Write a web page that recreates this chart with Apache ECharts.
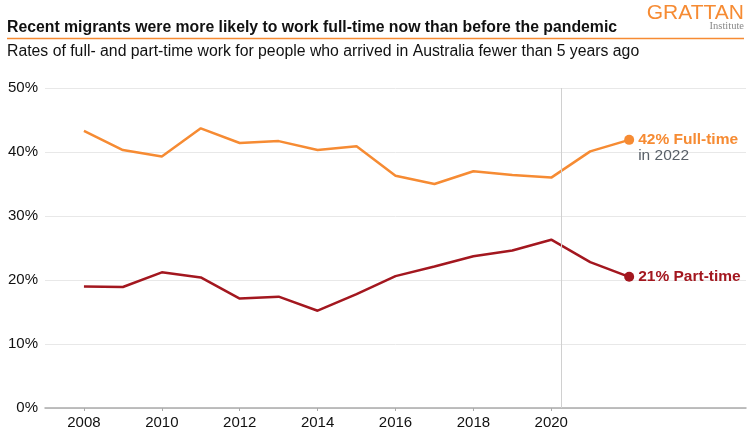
<!DOCTYPE html>
<html><head><meta charset="utf-8">
<script src="https://cdn.jsdelivr.net/npm/echarts@6/dist/echarts.min.js"></script>
<style>html,body{margin:0;padding:0;background:#fff}#c{width:754px;height:430px}</style>
</head><body><div id="c"></div>
<script>
const years = [2008,2009,2010,2011,2012,2013,2014,2015,2016,2017,2018,2019,2020,2021,2022];
const fullTime = [43.3,40.3,39.3,43.7,41.4,41.7,40.3,40.9,36.3,35.0,37.0,36.4,36.0,40.1,41.9];
const partTime = [19.0,18.9,21.2,20.4,17.1,17.4,15.2,17.8,20.6,22.1,23.7,24.6,26.3,22.8,20.5];
const xTickLabels = [2008,2010,2012,2014,2016,2018,2020];
const pandemicStart = 2020.25;

const ORANGE = '#F68B33', RED = '#A3171F', FONT = 'Liberation Sans, Arial, Helvetica, sans-serif';
const pairs = arr => years.map((y,i)=>[y,arr[i]]);
const last = years.length-1;

const chart = echarts.init(document.getElementById('c'), null, {renderer:'canvas'});
chart.setOption({
  animation:false,
  textStyle:{fontFamily:FONT},
  title:[
    {text:'Recent migrants were more likely to work full-time now than before the pandemic', left:2, top:15, padding:5,
     textStyle:{fontSize:15.8, fontWeight:'bold', color:'#111', fontFamily:FONT}},
    {text:'Rates of full- and part-time work for people who arrived in Australia fewer than 5 years ago', left:2, top:39, padding:5,
     textStyle:{fontSize:15.8, fontWeight:'normal', color:'#111', fontFamily:FONT}}
  ],
  graphic:[
    {type:'line', shape:{x1:7,y1:38.5,x2:744,y2:38.5}, style:{stroke:ORANGE, lineWidth:1.5}},
    {type:'text', right:10, top:3, style:{text:'GRATTAN', fill:ORANGE, font:'300 21px "Liberation Sans Narrow", "Liberation Sans", Arial, sans-serif'}},
    {type:'text', right:10, top:21, style:{text:'Institute', fill:'#888', font:'10.5px "Liberation Serif", "DejaVu Serif", serif'}}
  ],
  grid:{left:45, right:8, top:88, bottom:21, containLabel:false},
  xAxis:{type:'value', min:2007, max:2025,
    axisLine:{show:true, lineStyle:{color:'#aaa', width:1.5}},
    axisTick:{show:true, customValues:xTickLabels, length:3, lineStyle:{color:'#aaa'}},
    axisLabel:{customValues:xTickLabels, fontSize:15, color:'#111', margin:7, formatter:v=>String(v)},
    splitLine:{show:false}},
  yAxis:{type:'value', min:0, max:50, interval:10,
    axisLine:{show:false}, axisTick:{show:false},
    axisLabel:{fontSize:15, color:'#111', margin:7, formatter:v=>v+'%'},
    splitLine:{lineStyle:{color:'#e8e8e8', width:1}}},
  series:[
    {type:'line', data:[], z:1,
     markLine:{silent:true, symbol:'none', label:{show:false}, lineStyle:{color:'#d0d0d0', width:1, type:'solid'},
       data:[{xAxis:pandemicStart}]}},
    {type:'line', data:pairs(fullTime), symbol:'none', lineStyle:{color:ORANGE, width:2.5}, z:3},
    {type:'line', data:pairs(partTime), symbol:'none', lineStyle:{color:RED, width:2.5}, z:3},
    {type:'scatter', data:[[years[last], fullTime[last]]], symbolSize:10, itemStyle:{color:ORANGE, opacity:1}, z:4,
     label:{show:true, position:'right', distance:4, offset:[0,8],
       formatter:p=>'{a|'+Math.round(p.value[1])+'% Full-time}\n{b|in '+years[last]+'}',
       rich:{a:{fontSize:15.5, fontWeight:'bold', color:ORANGE, lineHeight:16, fontFamily:FONT},
             b:{fontSize:15.5, color:'#596068', lineHeight:16, fontFamily:FONT}}}},
    {type:'scatter', data:[[years[last], partTime[last]]], symbolSize:10, itemStyle:{color:RED, opacity:1}, z:4,
     label:{show:true, position:'right', distance:4,
       formatter:p=>Math.round(p.value[1])+'% Part-time',
       fontSize:15.5, fontWeight:'bold', color:RED, fontFamily:FONT}}
  ]
});
</script></body></html>
